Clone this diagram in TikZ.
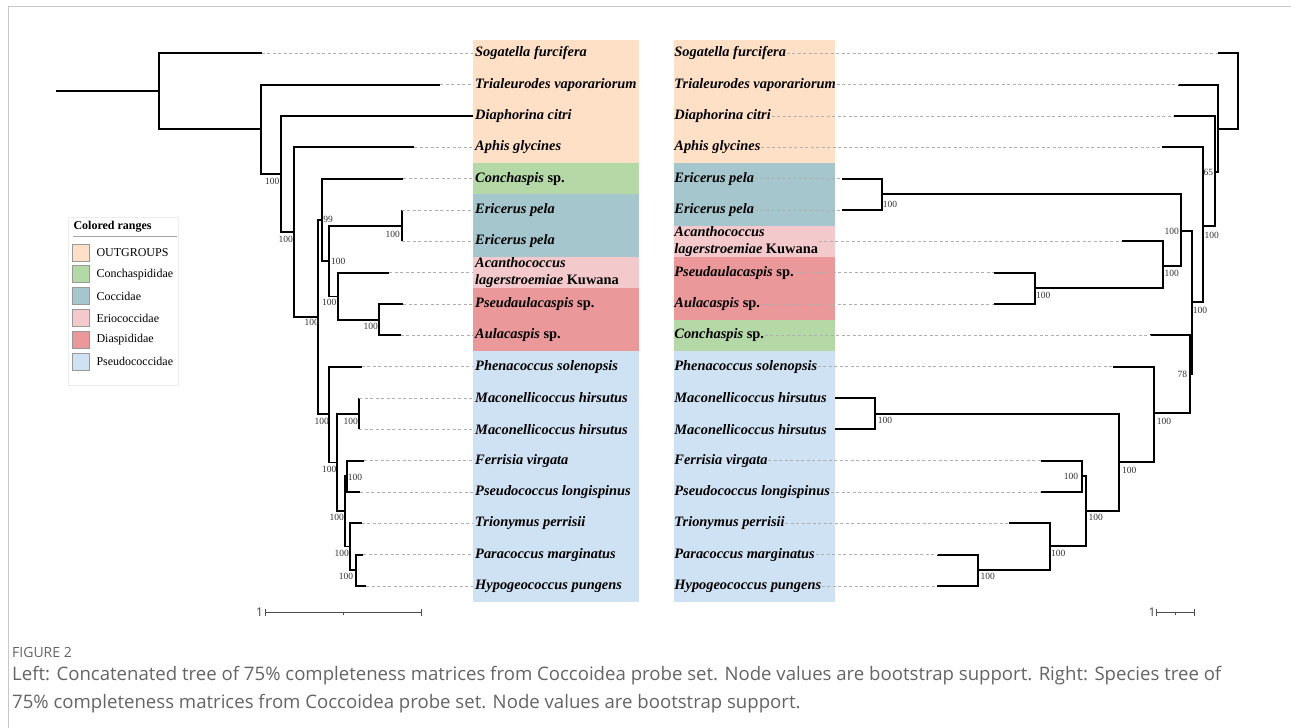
\documentclass[tikz,border=0pt]{standalone}
\usepackage{fontspec}
\setmainfont{Liberation Serif}
\newfontfamily\capfont{Open Sans}
\usetikzlibrary{positioning}
\definecolor{outgrpOrange}{RGB}{253,224,197}
\definecolor{conchGreen}{RGB}{180,217,166}
\definecolor{coccTeal}{RGB}{164,198,204}
\definecolor{erioPink}{RGB}{244,201,203}
\definecolor{diaspRed}{RGB}{234,152,154}
\definecolor{pseudoBlue}{RGB}{207,226,243}
\definecolor{guideGray}{RGB}{175,175,175}
\definecolor{captionGray}{RGB}{100,100,100}

\begin{document}
\begin{tikzpicture}[
    x=1pt, y=-1pt,
    taxon/.style={anchor=west, inner ysep=0pt, inner xsep=2pt, align=left, font=\fontsize{14.4}{17.5}\selectfont\bfseries\itshape},
    rtaxon/.style={taxon, inner xsep=0.5pt},
    branch/.style={line width=1.9pt},
    guide/.style={guideGray, line width=0.8pt, dash pattern=on 3pt off 2.5pt},
    boot/.style={inner sep=0pt, text=black!80, font=\fontsize{9.5}{10}\selectfont},
    swatch/.style={draw=black!40, line width=0.6pt, minimum size=17pt, inner sep=0pt},
    legtext/.style={anchor=west, inner sep=0pt, font=\fontsize{12}{14}\selectfont},
    scalebar/.style={black!70, line width=0.8pt}
]
\useasboundingbox (0,0) rectangle (1291,728);
\draw[black!22, line width=1.2pt] (8.3,728) -- (8.3,6.7) -- (1291,6.7);

% coloured ranges
\fill[outgrpOrange] (472.7,40) rectangle (639,163);
\fill[conchGreen] (472.7,163) rectangle (639,194.3);
\fill[coccTeal] (472.7,194.3) rectangle (639,257);
\fill[erioPink] (472.7,257) rectangle (639,288.3);
\fill[diaspRed] (472.7,288.3) rectangle (639,351);
\fill[pseudoBlue] (472.7,351) rectangle (639,602);
\fill[outgrpOrange] (673.7,40) rectangle (835,163);
\fill[coccTeal] (673.7,163) rectangle (835,225.7);
\fill[erioPink] (673.7,225.7) rectangle (835,257);
\fill[diaspRed] (673.7,257) rectangle (835,319.7);
\fill[conchGreen] (673.7,319.7) rectangle (835,351);
\fill[pseudoBlue] (673.7,351) rectangle (835,602);

% left taxa
\node[taxon] (lt0) at (473,53.3) {Sogatella furcifera};
\node[taxon] (lt1) at (473,84.6) {Trialeurodes vaporariorum};
\node[taxon] (lt2) at (473,116) {Diaphorina citri};
\node[taxon] (lt3) at (473,147.3) {Aphis glycines};
\node[taxon] (lt4) at (473,178.6) {Conchaspis \textup{sp.}};
\node[taxon] (lt5) at (473,210) {Ericerus pela};
\node[taxon] (lt6) at (473,241.3) {Ericerus pela};
\node[taxon] (lt7) at (473,272.6) {Acanthococcus\\lagerstroemiae \textup{Kuwana}};
\node[taxon] (lt8) at (473,304) {Pseudaulacaspis \textup{sp.}};
\node[taxon] (lt9) at (473,335.3) {Aulacaspis \textup{sp.}};
\node[taxon] (lt10) at (473,366.6) {Phenacoccus solenopsis};
\node[taxon] (lt11) at (473,398) {Maconellicoccus hirsutus};
\node[taxon] (lt12) at (473,429.3) {Maconellicoccus hirsutus};
\node[taxon] (lt13) at (473,460.6) {Ferrisia virgata};
\node[taxon] (lt14) at (473,492) {Pseudococcus longispinus};
\node[taxon] (lt15) at (473,523.3) {Trionymus perrisii};
\node[taxon] (lt16) at (473,554.6) {Paracoccus marginatus};
\node[taxon] (lt17) at (473,586) {Hypogeococcus pungens};

% right taxa
\node[rtaxon] (rt0) at (673.7,53.3) {Sogatella furcifera};
\node[rtaxon] (rt1) at (673.7,84.6) {Trialeurodes vaporariorum};
\node[rtaxon] (rt2) at (673.7,116) {Diaphorina citri};
\node[rtaxon] (rt3) at (673.7,147.3) {Aphis glycines};
\node[rtaxon] (rt4) at (673.7,178.6) {Ericerus pela};
\node[rtaxon] (rt5) at (673.7,210) {Ericerus pela};
\node[rtaxon] (rt6) at (673.7,241.3) {Acanthococcus\\lagerstroemiae \textup{Kuwana}};
\node[rtaxon] (rt7) at (673.7,272.6) {Pseudaulacaspis \textup{sp.}};
\node[rtaxon] (rt8) at (673.7,304) {Aulacaspis \textup{sp.}};
\node[rtaxon] (rt9) at (673.7,335.3) {Conchaspis \textup{sp.}};
\node[rtaxon] (rt10) at (673.7,366.6) {Phenacoccus solenopsis};
\node[rtaxon] (rt11) at (673.7,398) {Maconellicoccus hirsutus};
\node[rtaxon] (rt12) at (673.7,429.3) {Maconellicoccus hirsutus};
\node[rtaxon] (rt13) at (673.7,460.6) {Ferrisia virgata};
\node[rtaxon] (rt14) at (673.7,492) {Pseudococcus longispinus};
\node[rtaxon] (rt15) at (673.7,523.3) {Trionymus perrisii};
\node[rtaxon] (rt16) at (673.7,554.6) {Paracoccus marginatus};
\node[rtaxon] (rt17) at (673.7,586) {Hypogeococcus pungens};

% left tree: inner nodes
\coordinate (LR) at (55.7,91.3);
\coordinate (LA) at (159,91.3);
\coordinate (LB) at (261,129.3);
\coordinate (LC) at (280.7,174);
\coordinate (LD) at (294.3,232.3);
\coordinate (LE) at (318.3,316.7);
\coordinate (LF) at (321.7,220);
\coordinate (LG) at (329.3,261);
\coordinate (LH) at (401.7,225.7);
\coordinate (LI) at (337.7,296.5);
\coordinate (LJ) at (379,319.7);
\coordinate (LP) at (329.3,414);
\coordinate (LQ) at (337.3,462.5);
\coordinate (LM) at (359,413.7);
\coordinate (LX) at (345,511.3);
\coordinate (LV) at (346.7,476.3);
\coordinate (LY) at (350,546.5);
\coordinate (LZ) at (355.7,570.3);
% left tree: branch ends
\coordinate (la0) at (261.7,53.3);
\coordinate (la1) at (440,84.6);
\coordinate (la2) at (473,116);
\coordinate (la3) at (414,147.3);
\coordinate (la4) at (403.3,178.6);
\coordinate (la5) at (401.7,210);
\coordinate (la6) at (401.7,241.3);
\coordinate (la7) at (389.3,272.6);
\coordinate (la8) at (403.3,304);
\coordinate (la9) at (400.7,335.3);
\coordinate (la10) at (361.7,366.6);
\coordinate (la11) at (359,398);
\coordinate (la12) at (359,429.3);
\coordinate (la13) at (364.3,460.6);
\coordinate (la14) at (360,492);
\coordinate (la15) at (361.7,523.3);
\coordinate (la16) at (363.3,554.6);
\coordinate (la17) at (366,586);

\draw[branch] (LR) -- (LA);
\draw[branch] (LA) |- (la0);
\draw[branch] (LA) |- (LB);
\draw[branch] (LB) |- (la1);
\draw[branch] (LB) |- (LC);
\draw[branch] (LC) |- (la2);
\draw[branch] (LC) |- (LD);
\draw[branch] (LD) |- (la3);
\draw[branch] (LD) |- (LE);
\draw[branch] (LE) |- (LF);
\draw[branch] (LE) |- (LP);
\draw[branch] (LF) |- (la4);
\draw[branch] (LF) |- (LG);
\draw[branch] (LG) |- (LH);
\draw[branch] (LG) |- (LI);
\draw[branch] (LH) |- (la5);
\draw[branch] (LH) |- (la6);
\draw[branch] (LI) |- (la7);
\draw[branch] (LI) |- (LJ);
\draw[branch] (LJ) |- (la8);
\draw[branch] (LJ) |- (la9);
\draw[branch] (LP) |- (la10);
\draw[branch] (LP) |- (LQ);
\draw[branch] (LQ) |- (LM);
\draw[branch] (LQ) |- (LX);
\draw[branch] (LM) |- (la11);
\draw[branch] (LM) |- (la12);
\draw[branch] (LX) |- (LV);
\draw[branch] (LX) |- (LY);
\draw[branch] (LV) |- (la13);
\draw[branch] (LV) |- (la14);
\draw[branch] (LY) |- (la15);
\draw[branch] (LY) |- (LZ);
\draw[branch] (LZ) |- (la16);
\draw[branch] (LZ) |- (la17);

\draw[guide] (la0) -- (lt0.west);
\draw[guide] (la1) -- (lt1.west);
\draw[guide] (la3) -- (lt3.west);
\draw[guide] (la4) -- (lt4.west);
\draw[guide] (la5) -- (lt5.west);
\draw[guide] (la6) -- (lt6.west);
\draw[guide] (la7) -- (lt7.west);
\draw[guide] (la8) -- (lt8.west);
\draw[guide] (la9) -- (lt9.west);
\draw[guide] (la10) -- (lt10.west);
\draw[guide] (la11) -- (lt11.west);
\draw[guide] (la12) -- (lt12.west);
\draw[guide] (la13) -- (lt13.west);
\draw[guide] (la14) -- (lt14.west);
\draw[guide] (la15) -- (lt15.west);
\draw[guide] (la16) -- (lt16.west);
\draw[guide] (la17) -- (lt17.west);

% left support values
\node[boot] (bLC) at (272.3,181) {100};
\node[boot] (bLD) at (285.7,239.7) {100};
\node[boot] (bLE) at (311.7,322.7) {100};
\node[boot] (bLF) at (328,219.3) {99};
\node[boot] (bLG) at (338.3,261.7) {100};
\node[boot] (bLH) at (392.7,234) {100};
\node[boot] (bLI) at (329.3,302.7) {100};
\node[boot] (bLJ) at (370.7,326) {100};
\node[boot] (bLP) at (321.7,421) {100};
\node[boot] (bLQ) at (329.3,469.3) {100};
\node[boot] (bLM) at (350.7,421) {100};
\node[boot] (bLX) at (336.7,517.7) {100};
\node[boot] (bLV) at (355,477.3) {100};
\node[boot] (bLY) at (341.7,553.3) {100};
\node[boot] (bLZ) at (346,576.7) {100};

% right tree: inner nodes
\coordinate (RA) at (1238.3,91.3);
\coordinate (RB) at (1218.3,129);
\coordinate (RC) at (1215,172.3);
\coordinate (RD) at (1203.3,225.7);
\coordinate (RE) at (1191.7,302.3);
\coordinate (RF) at (1181,230.7);
\coordinate (RH) at (881.7,194.3);
\coordinate (RI) at (1162.7,265.7);
\coordinate (RJ) at (1035,288.3);
\coordinate (RG) at (1190.3,374.5);
\coordinate (RK) at (1154,413.3);
\coordinate (RL) at (1119.3,461.7);
\coordinate (RM) at (875,413.7);
\coordinate (RN) at (1086,510.7);
\coordinate (RO) at (1081.7,476.3);
\coordinate (RP) at (1050,545.7);
\coordinate (RQ) at (977.7,570.3);
% right tree: branch ends
\coordinate (ra0) at (1217.7,53.3);
\coordinate (ra1) at (1177.7,84.6);
\coordinate (ra2) at (1174.3,116);
\coordinate (ra3) at (1162.3,147.3);
\coordinate (ra4) at (841.7,178.6);
\coordinate (ra5) at (841.7,210);
\coordinate (ra6) at (1121.7,241.3);
\coordinate (ra7) at (994.3,272.6);
\coordinate (ra8) at (994.3,304);
\coordinate (ra9) at (1150,335.3);
\coordinate (ra10) at (1113.3,366.6);
\coordinate (ra11) at (835,398);
\coordinate (ra12) at (835,429.3);
\coordinate (ra13) at (1040.7,460.6);
\coordinate (ra14) at (1040.7,492);
\coordinate (ra15) at (1009.3,523.3);
\coordinate (ra16) at (936.7,554.6);
\coordinate (ra17) at (936.7,586);

\draw[branch] (RA) |- (ra0);
\draw[branch] (RA) |- (RB);
\draw[branch] (RB) |- (ra1);
\draw[branch] (RB) |- (RC);
\draw[branch] (RC) |- (ra2);
\draw[branch] (RC) |- (RD);
\draw[branch] (RD) |- (ra3);
\draw[branch] (RD) |- (RE);
\draw[branch] (RE) |- (RF);
\draw[branch] (RE) |- (RG);
\draw[branch] (RF) |- (RH);
\draw[branch] (RF) |- (RI);
\draw[branch] (RH) |- (ra4);
\draw[branch] (RH) |- (ra5);
\draw[branch] (RI) |- (ra6);
\draw[branch] (RI) |- (RJ);
\draw[branch] (RJ) |- (ra7);
\draw[branch] (RJ) |- (ra8);
\draw[branch] (RG) |- (ra9);
\draw[branch] (RG) |- (RK);
\draw[branch] (RK) |- (ra10);
\draw[branch] (RK) |- (RL);
\draw[branch] (RL) |- (RM);
\draw[branch] (RL) |- (RN);
\draw[branch] (RM) |- (ra11);
\draw[branch] (RM) |- (ra12);
\draw[branch] (RN) |- (RO);
\draw[branch] (RN) |- (RP);
\draw[branch] (RO) |- (ra13);
\draw[branch] (RO) |- (ra14);
\draw[branch] (RP) |- (ra15);
\draw[branch] (RP) |- (RQ);
\draw[branch] (RQ) |- (ra16);
\draw[branch] (RQ) |- (ra17);

\draw[guide] (rt0.east) -- (ra0);
\draw[guide] (rt1.east) -- (ra1);
\draw[guide] (rt2.east) -- (ra2);
\draw[guide] (rt3.east) -- (ra3);
\draw[guide] (rt4.east) -- (ra4);
\draw[guide] (rt5.east) -- (ra5);
\draw[guide] (rt6.east) -- (ra6);
\draw[guide] (rt7.east) -- (ra7);
\draw[guide] (rt8.east) -- (ra8);
\draw[guide] (rt9.east) -- (ra9);
\draw[guide] (rt10.east) -- (ra10);
\draw[guide] (rt13.east) -- (ra13);
\draw[guide] (rt14.east) -- (ra14);
\draw[guide] (rt15.east) -- (ra15);
\draw[guide] (rt16.east) -- (ra16);
\draw[guide] (rt17.east) -- (ra17);

% right support values
\node[boot] (bRC) at (1208.3,172.3) {65};
\node[boot] (bRD) at (1211.7,235) {100};
\node[boot] (bRE) at (1200,310) {100};
\node[boot] (bRF) at (1171.7,231.7) {100};
\node[boot] (bRH) at (890,204) {100};
\node[boot] (bRI) at (1171.7,273.3) {100};
\node[boot] (bRJ) at (1043.3,295) {100};
\node[boot] (bRG) at (1182.3,374) {78};
\node[boot] (bRK) at (1164,421.7) {100};
\node[boot] (bRL) at (1129.3,470) {100};
\node[boot] (bRM) at (885,420) {100};
\node[boot] (bRN) at (1095.7,517.7) {100};
\node[boot] (bRO) at (1071,476) {100};
\node[boot] (bRP) at (1058.3,553.3) {100};
\node[boot] (bRQ) at (987.7,576.7) {100};

% scale bars
\coordinate (lsb0) at (265.7,612.7);
\coordinate (lsb1) at (421.7,612.7);
\coordinate (lsbm) at (343.7,612.7);
\draw[scalebar] (lsb0) -- (lsb1);
\draw[scalebar] ([yshift=-3.5pt]lsb0) -- ([yshift=3.5pt]lsb0);
\draw[scalebar] ([yshift=-3.5pt]lsb1) -- ([yshift=3.5pt]lsb1);
\draw[scalebar] (lsbm) -- ([yshift=-2.5pt]lsbm);
\node[inner sep=0pt, font=\capfont\fontsize{12}{14}\selectfont, text=black!75, left=2.5pt of lsb0] (lsbl) {1};
\coordinate (rsb0) at (1156.7,612.7);
\coordinate (rsb1) at (1194.3,612.7);
\coordinate (rsbm) at (1175.5,612.7);
\draw[scalebar] (rsb0) -- (rsb1);
\draw[scalebar] ([yshift=-3.5pt]rsb0) -- ([yshift=3.5pt]rsb0);
\draw[scalebar] ([yshift=-3.5pt]rsb1) -- ([yshift=3.5pt]rsb1);
\draw[scalebar] (rsbm) -- ([yshift=-2.5pt]rsbm);
\node[inner sep=0pt, font=\capfont\fontsize{12}{14}\selectfont, text=black!75, left=1pt of rsb0] (rsbl) {1};

% legend
\node[draw=black!7, fill=white, line width=0.8pt, minimum width=110pt, minimum height=168pt, anchor=north west] (legend) at (68.3,216.7) {};
\node[legtext, font=\fontsize{12}{14}\selectfont\bfseries] (legtitle) at (73.3,226.7) {Colored ranges};
\draw[black!35, line width=1.5pt] (73,236.7) -- (176.7,236.7);
\node[swatch, fill=outgrpOrange] (swOut) at (80.8,252.3) {};
\node[swatch, fill=conchGreen, below=4.3pt of swOut] (swConch) {};
\node[swatch, fill=coccTeal, below=4.3pt of swConch] (swCocc) {};
\node[swatch, fill=erioPink, below=4.3pt of swCocc] (swErio) {};
\node[swatch, fill=diaspRed, below=4.3pt of swErio] (swDiasp) {};
\node[swatch, fill=pseudoBlue, below=4.3pt of swDiasp] (swPseudo) {};
\node[legtext, right=6.7pt of swOut] (lgOut) {OUTGROUPS};
\node[legtext, right=6.7pt of swConch] (lgConch) {Conchaspididae};
\node[legtext, right=6.7pt of swCocc] (lgCocc) {Coccidae};
\node[legtext, right=6.7pt of swErio] (lgErio) {Eriococcidae};
\node[legtext, right=6.7pt of swDiasp] (lgDiasp) {Diaspididae};
\node[legtext, right=6.7pt of swPseudo] (lgPseudo) {Pseudococcidae};

% caption
\node[anchor=west, inner sep=0pt, text=captionGray, font=\capfont\fontsize{14}{16}\selectfont] (figlabel) at (12,652) {FIGURE 2};
\node[anchor=north west, inner sep=0pt, align=left, text=captionGray, font=\capfont\fontsize{18.6}{28}\selectfont] (caption) at (12,666) {Left: Concatenated tree of 75\% completeness matrices from Coccoidea probe set. Node values are bootstrap support. Right: Species tree of\\75\% completeness matrices from Coccoidea probe set. Node values are bootstrap support.};
\end{tikzpicture}
\end{document}
